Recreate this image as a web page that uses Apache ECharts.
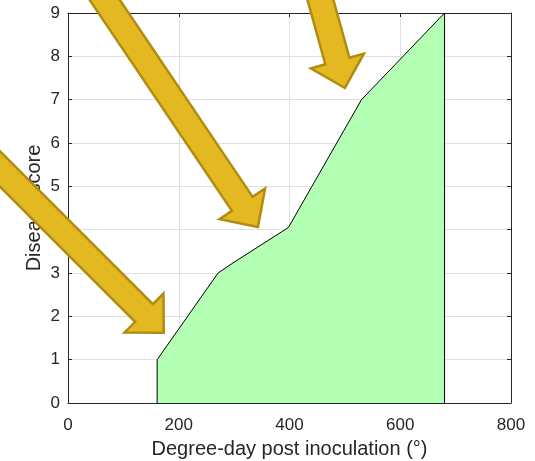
<!DOCTYPE html>
<html>
<head>
<meta charset="utf-8">
<script src="https://cdn.jsdelivr.net/npm/echarts@6/dist/echarts.min.js"></script>
<style>
html,body{margin:0;padding:0;background:#fff;}
#c{width:535px;height:461px;}
</style>
</head>
<body>
<div id="c"></div>
<script>
// Data
const degreeDays   = [161, 161, 271, 300, 398, 530, 680, 680];
const diseaseScore = [0,   1,   3,   3.25, 4.05, 7,  9,   0];
const xTicks = [0, 200, 400, 600, 800];
const yTicks = [0, 1, 2, 3, 4, 5, 6, 7, 8, 9];

// Annotation arrows (tip in data coords, direction angle in degrees below horizontal)
const arrowTipX  = [173, 343, 500];
const arrowTipY  = [1.62, 4.06, 7.27];
const arrowAngle = [45, 56, 74.5];

const txt = '#262626';
const chart = echarts.init(document.getElementById('c'), null, {renderer: 'canvas'});

const axisCommon = {
  type: 'value',
  axisLine: {show: true, onZero: false, lineStyle: {color: txt, width: 1}},
  axisTick: {show: true, inside: true, length: 4, lineStyle: {color: txt}},
};

chart.setOption({
  animation: false,
  backgroundColor: '#fff',
  grid: {left: 68, right: 24, top: 13, bottom: 58, containLabel: false, outerBoundsMode: 'none'},
  xAxis: [
    Object.assign({}, axisCommon, {
      position: 'bottom', min: xTicks[0], max: xTicks[xTicks.length - 1], interval: 200,
      name: 'Degree-day post inoculation (°)', nameLocation: 'middle', nameGap: 36,
      nameTextStyle: {color: txt, fontSize: 20, fontFamily: 'Liberation Sans'},
      axisLabel: {color: txt, fontSize: 17, margin: 14, fontFamily: 'Liberation Sans'},
      splitLine: {show: true, lineStyle: {color: '#e0e0e0', width: 1}}
    }),
    Object.assign({}, axisCommon, {
      position: 'top', min: 0, max: 800, interval: 200,
      axisLabel: {show: false}, splitLine: {show: false}
    })
  ],
  yAxis: [
    Object.assign({}, axisCommon, {
      position: 'left', min: yTicks[0], max: yTicks[yTicks.length - 1], interval: 1,
      name: 'Disease score', nameLocation: 'middle', nameGap: 24, nameMoveOverlap: false,
      nameTextStyle: {color: txt, fontSize: 20, fontFamily: 'Liberation Sans'},
      axisLabel: {color: txt, fontSize: 17, margin: 8, fontFamily: 'Liberation Sans'},
      splitLine: {show: true, lineStyle: {color: '#e0e0e0', width: 1}}
    }),
    Object.assign({}, axisCommon, {
      position: 'right', min: 0, max: 9, interval: 1,
      axisLabel: {show: false}, splitLine: {show: false}
    })
  ],
  series: [{
    type: 'line',
    data: degreeDays.map((x, i) => [x, diseaseScore[i]]),
    showSymbol: false,
    symbol: 'none',
    lineStyle: {color: '#000', width: 1},
    areaStyle: {color: '#b3ffb3', opacity: 1, origin: 'start'},
    z: 3
  }]
});

// Build arrows
const headLen = 28, headW = 55, shaftW = 25, totalLen = 420;
const graphics = arrowTipX.map((tx, i) => {
  const p = chart.convertToPixel({gridIndex: 0}, [tx, arrowTipY[i]]);
  const a = arrowAngle[i] * Math.PI / 180;
  const d = [Math.cos(a), Math.sin(a)];
  const n = [-Math.sin(a), Math.cos(a)];
  const at = (back, side) => [p[0] - back * d[0] + side * n[0], p[1] - back * d[1] + side * n[1]];
  const pts = [
    p,
    at(headLen, headW / 2),
    at(headLen, shaftW / 2),
    at(totalLen, shaftW / 2),
    at(totalLen, -shaftW / 2),
    at(headLen, -shaftW / 2),
    at(headLen, -headW / 2)
  ];
  return {
    type: 'polygon',
    shape: {points: pts},
    style: {fill: '#e3b821', stroke: '#b08d10', lineWidth: 2.5, lineJoin: 'miter'},
    z: 100
  };
});
chart.setOption({graphic: graphics});
</script>
</body>
</html>
